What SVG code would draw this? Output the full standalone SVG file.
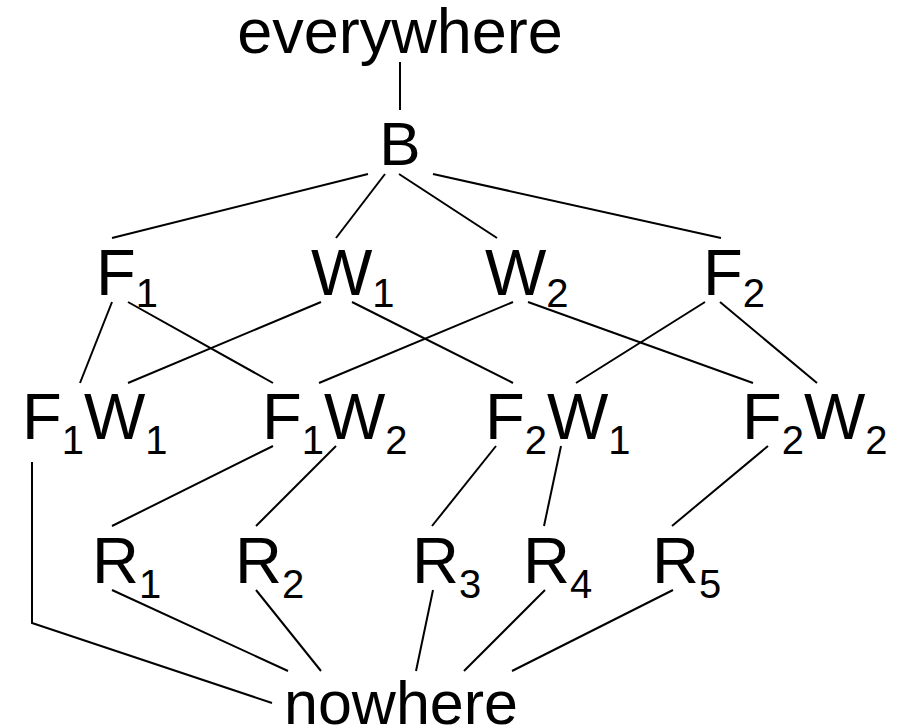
<svg xmlns="http://www.w3.org/2000/svg" width="899" height="728" viewBox="0 0 899 728">
  <style>
    .lbl { font-family: "Liberation Sans", Arial, sans-serif; font-size: 65px; fill: #000; }
    .big { font-family: "Liberation Sans", Arial, sans-serif; font-size: 62px; fill: #000; text-anchor: middle; }
    .sub { font-size: 40px; }
    .edge { stroke: #000; stroke-width: 2; fill: none; stroke-linecap: butt; }
  </style>
  <rect width="899" height="728" fill="#fff"/>

  <!-- lattice edges -->
  <g id="edges" class="edge">
    <line x1="400" y1="62" x2="400" y2="110"/>
    <line x1="368" y1="174" x2="112" y2="238"/>
    <line x1="385" y1="174" x2="336" y2="238"/>
    <line x1="399" y1="174" x2="497" y2="238"/>
    <line x1="433" y1="174" x2="721" y2="238"/>
    <line x1="112" y1="302" x2="80" y2="383"/>
    <line x1="128" y1="302" x2="273" y2="383"/>
    <line x1="321" y1="302" x2="128" y2="383"/>
    <line x1="352" y1="302" x2="513" y2="383"/>
    <line x1="513" y1="302" x2="319" y2="383"/>
    <line x1="528" y1="302" x2="753" y2="383"/>
    <line x1="705" y1="302" x2="576" y2="383"/>
    <line x1="720" y1="302" x2="817" y2="383"/>
    <polyline points="32,462 32,623 272,703"/>
    <line x1="273" y1="446" x2="112" y2="526"/>
    <line x1="336" y1="446" x2="256" y2="526"/>
    <line x1="496" y1="446" x2="432" y2="526"/>
    <line x1="561" y1="446" x2="544" y2="526"/>
    <line x1="768" y1="446" x2="672" y2="526"/>
    <line x1="112" y1="590" x2="288" y2="671"/>
    <line x1="256" y1="590" x2="321" y2="671"/>
    <line x1="433" y1="590" x2="416" y2="671"/>
    <line x1="545" y1="590" x2="464" y2="671"/>
    <line x1="673" y1="590" x2="512" y2="671"/>
  </g>

  <!-- top and bottom -->
  <g id="everywhere"><text class="big" x="400" y="53" style="font-size:63px">everywhere</text></g>
  <g id="B"><text class="big" x="400" y="165">B</text></g>
  <g id="nowhere"><text class="big" x="401" y="724" style="font-size:61px">nowhere</text></g>

  <!-- single factors -->
  <g id="F1"><text class="lbl" x="96" y="295">F<tspan class="sub" dy="12">1</tspan></text></g>
  <g id="W1"><text class="lbl" x="311" y="295">W<tspan class="sub" dy="12">1</tspan></text></g>
  <g id="W2"><text class="lbl" x="485" y="295">W<tspan class="sub" dy="12">2</tspan></text></g>
  <g id="F2"><text class="lbl" x="703" y="295">F<tspan class="sub" dy="12">2</tspan></text></g>

  <!-- combined factors -->
  <g id="F1W1"><text class="lbl" x="22" y="439">F<tspan class="sub" dy="15">1</tspan><tspan dy="-15">W</tspan><tspan class="sub" dy="15">1</tspan></text></g>
  <g id="F1W2"><text class="lbl" x="262" y="439">F<tspan class="sub" dy="15">1</tspan><tspan dy="-15">W</tspan><tspan class="sub" dy="15">2</tspan></text></g>
  <g id="F2W1"><text class="lbl" x="485" y="439">F<tspan class="sub" dy="15">2</tspan><tspan dy="-15">W</tspan><tspan class="sub" dy="15">1</tspan></text></g>
  <g id="F2W2"><text class="lbl" x="742" y="439">F<tspan class="sub" dy="15">2</tspan><tspan dy="-15">W</tspan><tspan class="sub" dy="15">2</tspan></text></g>

  <!-- regions -->
  <g id="R1"><text class="lbl" x="92" y="583">R<tspan class="sub" dy="15">1</tspan></text></g>
  <g id="R2"><text class="lbl" x="235" y="583">R<tspan class="sub" dy="15">2</tspan></text></g>
  <g id="R3"><text class="lbl" x="412" y="583">R<tspan class="sub" dy="15">3</tspan></text></g>
  <g id="R4"><text class="lbl" x="523" y="583">R<tspan class="sub" dy="15">4</tspan></text></g>
  <g id="R5"><text class="lbl" x="652" y="583">R<tspan class="sub" dy="15">5</tspan></text></g>
</svg>
